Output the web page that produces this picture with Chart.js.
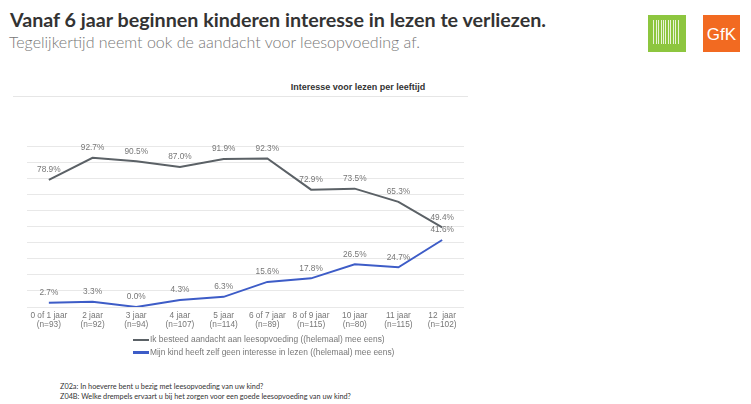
<!DOCTYPE html>
<html>
<head>
<meta charset="utf-8">
<script src="https://cdn.jsdelivr.net/npm/chart.js@4/dist/chart.umd.min.js"></script>
<style>
  body { margin: 0; width: 751px; height: 404px; background: #fff; position: relative; overflow: hidden; font-family: Lato, "Liberation Sans", sans-serif; }
  #titel { position: absolute; left: 10px; top: 8px; font-size: 19.7px; font-weight: bold; color: #333; white-space: nowrap; }
  #sub { position: absolute; left: 9px; top: 32px; font-size: 16px; font-weight: 300; color: #777; white-space: nowrap; }
  #logoGroen { position: absolute; left: 648px; top: 15px; width: 38px; height: 37px; background: #8dc63f; }
  #logoGroen i { position: absolute; top: 5px; height: 24px; width: 1px; background: #e8f4d8; }
  #logoGfk { position: absolute; left: 703px; top: 15px; width: 37px; height: 37px; background: #f26a21; color: #fff; font-family: "Liberation Sans", Arial, sans-serif; font-size: 17px; text-align: center; line-height: 39px; }
  #grafiekTitel { position: absolute; left: 0; width: 716px; top: 82px; text-align: center; font-family: "Liberation Sans", Arial, sans-serif; font-size: 9px; font-weight: bold; color: #333; }
  #lijn { position: absolute; left: 13px; top: 96px; width: 455px; height: 1px; background: #e6e6e6; }
  #wrap { position: absolute; left: 0; top: 100px; width: 480px; height: 235px; }
  #legenda { position: absolute; left: 133px; top: 334px; font-family: "Liberation Sans", Arial, sans-serif; font-size: 8.4px; color: #777; }
  #legenda div { height: 12.5px; line-height: 10px; white-space: nowrap; }
  #legenda span.box { display: inline-block; width: 16px; height: 2.5px; vertical-align: middle; margin-right: 1px; }
  #voet { position: absolute; left: 60px; top: 382px; font-size: 7.3px; color: #333; line-height: 10px; white-space: nowrap; }
</style>
</head>
<body>
<div id="titel">Vanaf 6 jaar beginnen kinderen interesse in lezen te verliezen.</div>
<div id="sub">Tegelijkertijd neemt ook de aandacht voor leesopvoeding af.</div>
<div id="logoGroen"></div>
<div id="logoGfk">GfK</div>
<div id="grafiekTitel">Interesse voor lezen per leeftijd</div>
<div id="lijn"></div>
<div id="wrap"><canvas id="grafiek"></canvas></div>
<div id="legenda"></div>
<div id="voet">Z02a: In hoeverre bent u bezig met leesopvoeding van uw kind?<br>Z04B: Welke drempels ervaart u bij het zorgen voor een goede leesopvoeding van uw kind?</div>
<script>
// leeftijdsgroepen + aantal respondenten
const leeftijden = ['0 of 1 jaar', '2 jaar', '3 jaar', '4 jaar', '5 jaar', '6 of 7 jaar', '8 of 9 jaar', '10 jaar', '11 jaar', '12  jaar'];
const aantallen = ['(n=93)', '(n=92)', '(n=94)', '(n=107)', '(n=114)', '(n=89)', '(n=115)', '(n=80)', '(n=115)', '(n=102)'];

const aandacht = [78.9, 92.7, 90.5, 87.0, 91.9, 92.3, 72.9, 73.5, 65.3, 49.4];
const geenInteresse = [2.7, 3.3, 0.0, 4.3, 6.3, 15.6, 17.8, 26.5, 24.7, 41.6];

const labels = leeftijden.map((l, i) => [l, aantallen[i]]);

// streepjes in het groene logo
const groen = document.getElementById('logoGroen');
[5, 8, 10, 13, 15, 17, 20, 22, 25, 27, 30].forEach(x => {
    const s = document.createElement('i');
    s.style.left = x + 'px';
    groen.appendChild(s);
});

// waarden boven de punten schrijven
const waardeLabels = {
    id: 'waardeLabels',
    afterDatasetsDraw(chart) {
        const ctx = chart.ctx;
        ctx.save();
        ctx.font = '8.3px "Liberation Sans", Arial, sans-serif';
        ctx.fillStyle = '#777';
        ctx.textAlign = 'center';
        ctx.textBaseline = 'middle';
        chart.data.datasets.forEach((ds, i) => {
            chart.getDatasetMeta(i).data.forEach((pt, j) => {
                ctx.fillText(ds.data[j].toFixed(1) + '%', pt.x, pt.y - 10);
            });
        });
        ctx.restore();
    }
};

const grafiek = new Chart(document.getElementById('grafiek'), {
    type: 'line',
    data: {
        labels: labels,
        datasets: [
            { label: 'Ik besteed aandacht aan leesopvoeding ((helemaal) mee eens)', data: aandacht, borderColor: '#5b6166', backgroundColor: '#5b6166', borderWidth: 2, pointRadius: 0, tension: 0 },
            { label: 'Mijn kind heeft zelf geen interesse in lezen ((helemaal) mee eens)', data: geenInteresse, borderColor: '#3d5cc7', backgroundColor: '#3d5cc7', borderWidth: 2, pointRadius: 0, tension: 0 }
        ]
    },
    options: {
        responsive: true,
        maintainAspectRatio: false,
        animation: false,
        layout: { padding: { left: 27, right: 16, top: 46, bottom: 0 } },
        plugins: { legend: { display: false }, tooltip: { enabled: false } },
        scales: {
            x: {
                offset: true,
                grid: { display: false, drawTicks: false },
                border: { display: false },
                ticks: { color: '#777', font: { size: 8.3, family: '"Liberation Sans", Arial, sans-serif', lineHeight: 1.1 }, padding: 4, maxRotation: 0, autoSkip: false },
                afterFit: s => { s.height = 28; }
            },
            y: {
                min: 0,
                max: 100,
                ticks: { display: false, stepSize: 10 },
                border: { display: false },
                grid: { color: '#e8e8e8', lineWidth: 1, drawTicks: false },
                afterFit: s => { s.width = 0; }
            }
        }
    },
    plugins: [waardeLabels]
});

// legenda onder elkaar
const legenda = document.getElementById('legenda');
grafiek.data.datasets.forEach(ds => {
    const rij = document.createElement('div');
    rij.innerHTML = `<span class="box" style="background:${ds.borderColor}"></span>${ds.label}`;
    legenda.appendChild(rij);
});
</script>
</body>
</html>
